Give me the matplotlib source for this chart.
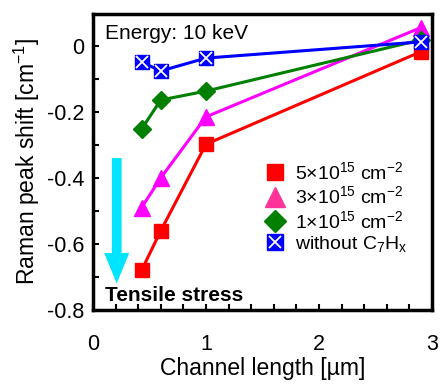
import numpy as np
import matplotlib.pyplot as plt
from matplotlib.legend_handler import HandlerTuple
from matplotlib.ticker import MultipleLocator

plt.rcParams['font.family'] = ['Liberation Sans', 'DejaVu Sans']
plt.rcParams['mathtext.fontset'] = 'custom'
plt.rcParams['mathtext.rm'] = 'Liberation Sans'
plt.rcParams['mathtext.it'] = 'Liberation Sans:italic'

# channel length [um]
x = [0.43, 0.6, 1.0, 2.9]

# Raman peak shift [cm^-1]
dose5 = [-0.68, -0.56, -0.298, -0.018]
dose3 = [-0.49, -0.40, -0.215, 0.055]
dose1 = [-0.252, -0.164, -0.137, 0.018]
no_c7 = [-0.049, -0.076, -0.037, 0.012]

fig = plt.figure(figsize=(4.48, 3.85), dpi=100)
ax = fig.add_axes([0.2076, 0.195, 0.7564, 0.769])

ax.annotate('', xy=(0.21, -0.72), xytext=(0.21, -0.34),
            arrowprops=dict(facecolor='#00E5FF', edgecolor='none', width=7,
                            headwidth=18, headlength=22))

ax.plot(x, dose5, color='red', lw=2.2, marker='s', ms=10, zorder=3)
ax.plot(x, dose3, color='magenta', lw=2.2, zorder=3)
ax.plot(x, dose3, ls='none', marker='^', ms=11, color='magenta', zorder=3)
ax.plot(x, dose1, color='green', lw=2.2, marker='D', ms=9, zorder=3)
ax.plot(x, no_c7, color='blue', lw=2.2, marker='s', ms=10, zorder=3)
ax.plot(x, no_c7, ls='none', marker='x', ms=8, mew=1.3, color='white', zorder=4)

h5 = plt.Line2D([], [], ls='none', marker='s', ms=11, color='red')
h3 = plt.Line2D([], [], ls='none', marker='^', ms=14, color='#FF3399')
h1 = plt.Line2D([], [], ls='none', marker='D', ms=11, color='green')
hb = plt.Line2D([], [], ls='none', marker='s', ms=11, color='blue')
hx = plt.Line2D([], [], ls='none', marker='x', ms=9, mew=1.3, color='white')
ax.legend([h5, h3, h1, (hb, hx)],
          [r'5$\times$10$^{15}$ cm$^{-2}$', r'3$\times$10$^{15}$ cm$^{-2}$',
           r'1$\times$10$^{15}$ cm$^{-2}$', r'without C$_7$H$_\mathrm{x}$'],
          handler_map={tuple: HandlerTuple(ndivide=1, pad=0)},
          loc='upper left', bbox_to_anchor=(0.48, 0.535), frameon=False,
          fontsize=14, handlelength=1.0, handletextpad=0.5, labelspacing=0.12,
          borderpad=0)

ax.text(0.035, 0.965, 'Energy: 10 keV', transform=ax.transAxes, fontsize=15,
        va='top', ha='left')
ax.text(0.035, 0.015, 'Tensile stress', transform=ax.transAxes, fontsize=15,
        fontweight='bold', va='bottom', ha='left')

ax.set_xlim(0, 3)
ax.set_ylim(-0.8, 0.097)
ax.xaxis.set_major_locator(MultipleLocator(1))
ax.xaxis.set_minor_locator(MultipleLocator(0.2))
ax.yaxis.set_major_locator(MultipleLocator(0.2))
ax.yaxis.set_minor_locator(MultipleLocator(0.1))
ax.tick_params(which='both', direction='in', length=4, width=1.5, labelsize=15.5)
ax.tick_params(axis='x', which='both', pad=17)
ax.tick_params(axis='y', which='both', pad=6)
ax.set_yticks([0, -0.2, -0.4, -0.6, -0.8])
ax.set_yticklabels(['0', '-0.2', '-0.4', '-0.6', '-0.8'])
for s in ax.spines.values():
    s.set_linewidth(2.5)

ax.set_xlabel('Channel length [\u00b5m]', fontsize=16.5, labelpad=2)
ax.set_ylabel('Raman peak shift [cm$^{-1}$]', fontsize=16.5, labelpad=4)

fig.savefig('out.png', dpi=100)
